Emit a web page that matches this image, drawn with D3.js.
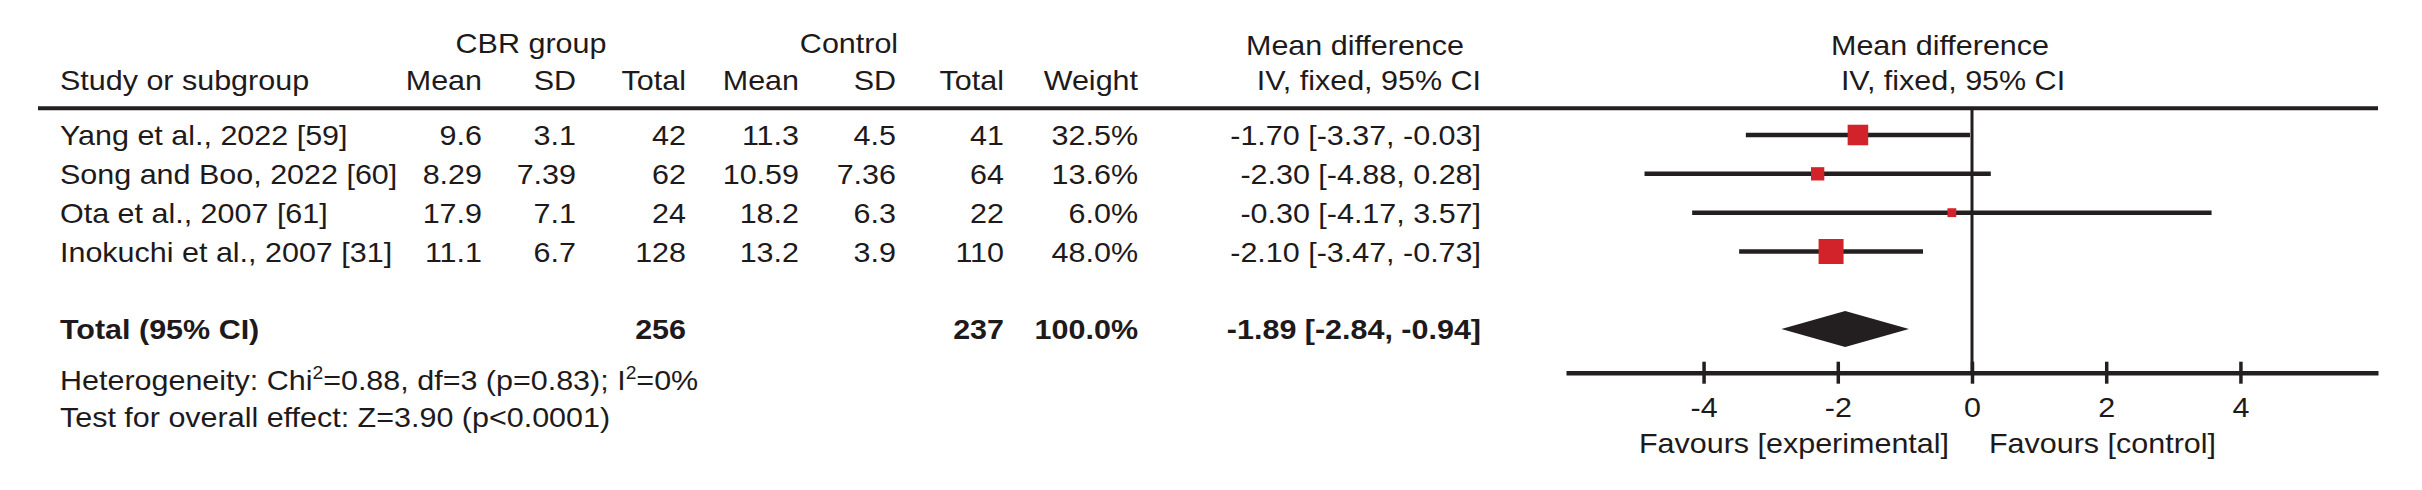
<!DOCTYPE html>
<html>
<head>
<meta charset="utf-8">
<script src="https://cdn.jsdelivr.net/npm/d3@7"></script>
<style>
  body { margin: 0; background: #fff; }
  svg text { font-family: "Liberation Sans", Arial, sans-serif; font-size: 28.5px; fill: #1e1a1b; }
  svg text.bold { font-weight: bold; }
</style>
</head>
<body>
<svg id="chart" width="2422" height="490"></svg>
<script>
// study rows
const studies = ['Yang et al., 2022 [59]', 'Song and Boo, 2022 [60]', 'Ota et al., 2007 [61]', 'Inokuchi et al., 2007 [31]'];
const cbrMean = ['9.6', '8.29', '17.9', '11.1'];
const cbrSd = ['3.1', '7.39', '7.1', '6.7'];
const cbrTotal = [42, 62, 24, 128];
const ctlMean = ['11.3', '10.59', '18.2', '13.2'];
const ctlSd = ['4.5', '7.36', '6.3', '3.9'];
const ctlTotal = [41, 64, 22, 110];
const weights = [32.5, 13.6, 6.0, 48.0];
const md = [-1.70, -2.30, -0.30, -2.10];
const ciLow = [-3.37, -4.88, -4.17, -3.47];
const ciHigh = [-0.03, 0.28, 3.57, -0.73];

// pooled result
const totalCbr = 256;
const totalCtl = 237;
const totalWeight = 100.0;
const pooledMd = -1.89;
const pooledLow = -2.84;
const pooledHigh = -0.94;

const heterogeneity = [['Heterogeneity: Chi'], ['2', true], ['=0.88, df=3 (p=0.83); I'], ['2', true], ['=0%']];
const overallTest = 'Test for overall effect: Z=3.90 (p<0.0001)';
const ticks = [-4, -2, 0, 2, 4];

const STRETCH = 1.07; // the source text is a little wider than plain Arial
const ink = '#231f20';
const red = '#d2232a';

const svg = d3.select('#chart');
const f2 = d3.format('.2f');
const fw = d => d3.format('.1f')(d) + '%';
const ciText = (m, lo, hi) => `${f2(m)} [${f2(lo)}, ${f2(hi)}]`.replace(/\u2212/g, '-');

function label(x, y, txt, anchor = 'start', cls = '') {
  return svg.append('text')
    .attr('transform', `translate(${x},${y}) scale(${STRETCH},1)`)
    .attr('text-anchor', anchor)
    .attr('class', cls)
    .text(txt);
}

// column right edges
const col = { name: 60, mean: 482, sd: 576, total: 686, cmean: 799, csd: 896, ctotal: 1004, weight: 1138, ci: 1481 };

// headers
label(531, 53, 'CBR group', 'middle');
label(849, 53, 'Control', 'middle');
label(1355, 55, 'Mean difference', 'middle');
label(col.name, 90, 'Study or subgroup');
label(col.mean, 90, 'Mean', 'end');
label(col.sd, 90, 'SD', 'end');
label(col.total, 90, 'Total', 'end');
label(col.cmean, 90, 'Mean', 'end');
label(col.csd, 90, 'SD', 'end');
label(col.ctotal, 90, 'Total', 'end');
label(col.weight, 90, 'Weight', 'end');
label(col.ci, 90, 'IV, fixed, 95% CI', 'end');

const x = d3.scaleLinear().domain([-6.05, 6.05]).range([1566, 2378]);
const rowY = d3.scalePoint().domain(d3.range(studies.length)).range([145, 261.5]);
const boxSize = d3.scaleSqrt().domain([0, 48]).range([0, 25]);

label(x(0) - 32, 55, 'Mean difference', 'middle');
label(x(0) - 19, 90, 'IV, fixed, 95% CI', 'middle');

svg.append('line')
  .attr('x1', 38).attr('x2', x.range()[1])
  .attr('y1', 108.3).attr('y2', 108.3)
  .attr('stroke', ink).attr('stroke-width', 4);

// table rows
studies.forEach((s, i) => {
  const y = rowY(i);
  label(col.name, y, s);
  label(col.mean, y, cbrMean[i], 'end');
  label(col.sd, y, cbrSd[i], 'end');
  label(col.total, y, cbrTotal[i], 'end');
  label(col.cmean, y, ctlMean[i], 'end');
  label(col.csd, y, ctlSd[i], 'end');
  label(col.ctotal, y, ctlTotal[i], 'end');
  label(col.weight, y, fw(weights[i]), 'end');
  label(col.ci, y, ciText(md[i], ciLow[i], ciHigh[i]), 'end');
});

const totalY = 339;
label(col.name, totalY, 'Total (95% CI)', 'start', 'bold');
label(col.total, totalY, totalCbr, 'end', 'bold');
label(col.ctotal, totalY, totalCtl, 'end', 'bold');
label(col.weight, totalY, fw(totalWeight), 'end', 'bold');
label(col.ci, totalY, ciText(pooledMd, pooledLow, pooledHigh), 'end', 'bold');

// superscripts raise by 11px, the following run drops back
const het = label(col.name, 390, '');
let raised = false;
heterogeneity.forEach(([t, sup]) => {
  het.append('tspan')
    .attr('dy', sup ? -11 : (raised ? 11 : 0))
    .style('font-size', sup ? '18px' : null)
    .text(t);
  raised = !!sup;
});
label(col.name, 426.7, overallTest);

// forest plot
const axisY = 372.7;

svg.append('line')
  .attr('x1', x(0)).attr('x2', x(0))
  .attr('y1', 108.3).attr('y2', axisY)
  .attr('stroke', ink).attr('stroke-width', 3);

const rows = svg.append('g').selectAll('g')
  .data(studies.map((s, i) => i))
  .join('g')
  .attr('transform', i => `translate(0,${rowY(i) - 10})`);

rows.append('line')
  .attr('x1', i => x(ciLow[i])).attr('x2', i => x(ciHigh[i]))
  .attr('stroke', ink).attr('stroke-width', 4.5);

rows.append('rect')
  .attr('x', i => x(md[i]) - boxSize(weights[i]) / 2)
  .attr('y', i => -boxSize(weights[i]) / 2)
  .attr('width', i => boxSize(weights[i]))
  .attr('height', i => boxSize(weights[i]))
  .attr('fill', red);

const dy = totalY - 10;
svg.append('path')
  .attr('d', d3.line()([
    [x(pooledLow), dy], [x(pooledMd), dy - 18], [x(pooledHigh), dy], [x(pooledMd), dy + 18]
  ]) + 'Z')
  .attr('fill', ink);

const axis = svg.append('g')
  .attr('transform', `translate(0,${axisY})`)
  .style('color', ink)
  .call(d3.axisBottom(x).tickValues(ticks).tickSizeInner(11).tickSizeOuter(0).tickFormat(d => String(d)));

axis.select('.domain').attr('stroke-width', 4.5);
axis.selectAll('.tick line').attr('y1', -11).attr('stroke-width', 3.5);
axis.selectAll('.tick text')
  .attr('y', 44).attr('dy', 0)
  .attr('transform', `scale(${STRETCH},1)`)
  .text(d => String(d).replace('\u2212', '-'));

label(x(0) - 23, 453, 'Favours [experimental]', 'end');
label(x(0) + 17, 453, 'Favours [control]', 'start');
</script>
</body>
</html>
